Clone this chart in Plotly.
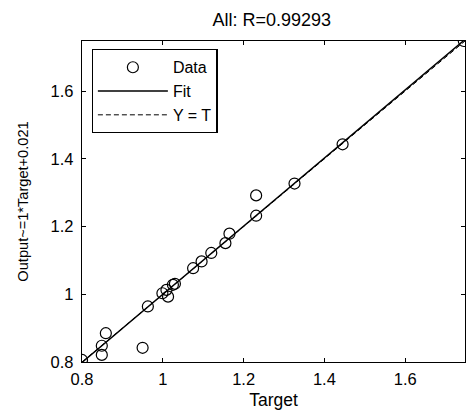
import plotly.graph_objects as go

target = [0.800, 0.849, 0.849, 0.859, 0.950, 0.963, 0.999, 1.009, 1.013, 1.025, 1.030,
          1.075, 1.096, 1.120, 1.155, 1.165, 1.231, 1.231, 1.326, 1.445, 1.745]
output = [0.806, 0.848, 0.821, 0.885, 0.842, 0.964, 1.003, 1.013, 0.993, 1.028, 1.031,
          1.077, 1.097, 1.122, 1.151, 1.179, 1.232, 1.292, 1.327, 1.443, 1.748]
fit_slope = 1.006
fit_intercept = -0.006
axis_min = 0.8
axis_max = 1.748
xticks = [0.8, 1.0, 1.2, 1.4, 1.6]
xtick_text = ["0.8", "1", "1.2", "1.4", "1.6"]

line_x = [axis_min, axis_max]
fit_y = [fit_slope * v + fit_intercept for v in line_x]

FONT = "Liberation Sans, Arial"

fig = go.Figure()
fig.add_trace(go.Scatter(x=target, y=output, mode="markers", name="Data",
                         marker=dict(symbol="circle-open", size=11, color="black",
                                     line=dict(width=1.2, color="black"))))
fig.add_trace(go.Scatter(x=line_x, y=fit_y, mode="lines", name="Fit",
                         line=dict(color="black", width=1.5)))
fig.add_trace(go.Scatter(x=line_x, y=line_x, mode="lines", name="Y = T",
                         line=dict(color="black", width=1, dash="5px,3px")))

axis_common = dict(range=[axis_min, axis_max], showgrid=False, zeroline=False,
                   showline=True, linecolor="black", linewidth=1.3, mirror="ticks",
                   ticks="inside", ticklen=4, tickcolor="black",
                   tickvals=xticks, ticktext=xtick_text,
                   tickfont=dict(family=FONT, size=16.5, color="black"))

fig.update_layout(
    width=467, height=410,
    margin=dict(l=82, r=2, t=41, b=48),
    paper_bgcolor="white", plot_bgcolor="white",
    title=dict(text="All: R=0.99293", x=0.582, xanchor="center", y=0.951, yanchor="middle",
               font=dict(family=FONT, size=18, color="black")),
    xaxis=dict(**axis_common, ticklabelstandoff=2,
               title=dict(text="Target", standoff=6,
                          font=dict(family=FONT, size=17.5, color="black"))),
    yaxis=dict(**axis_common, ticklabelstandoff=4,
               title=dict(text="Output~=1*Target+0.021", standoff=18,
                          font=dict(family=FONT, size=14.6, color="black"))),
    showlegend=True,
    legend=dict(x=0.025, y=0.975, xanchor="left", yanchor="top",
                bgcolor="white", bordercolor="black", borderwidth=1.3,
                font=dict(family=FONT, size=16, color="black"),
                itemwidth=70, tracegroupgap=0),
)

fig.write_html("out.html")
